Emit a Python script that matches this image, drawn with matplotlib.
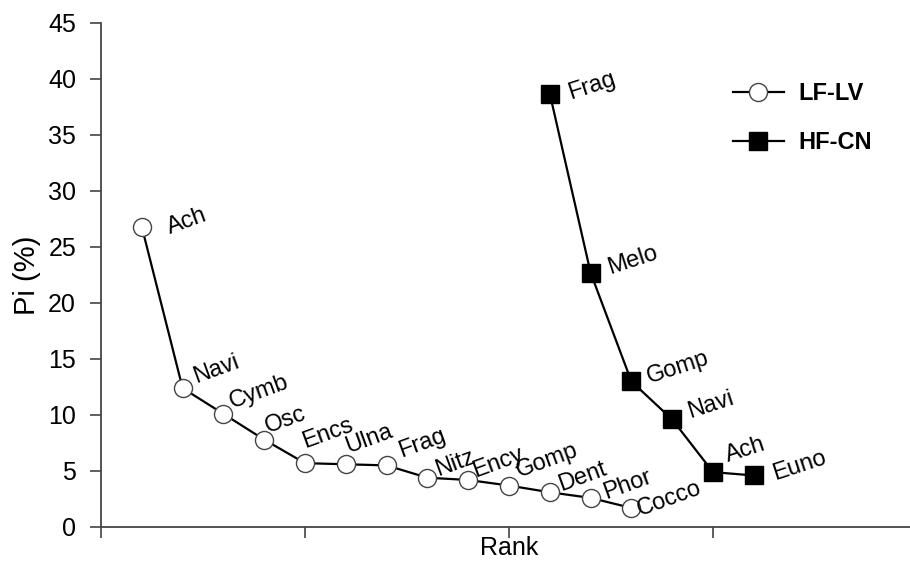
import matplotlib
matplotlib.use("Agg")
import matplotlib.pyplot as plt

plt.rcParams["font.family"] = ["Liberation Sans", "DejaVu Sans"]

# Rank-abundance data: relative abundance Pi (%) by rank
lf_taxa = ["Ach", "Navi", "Cymb", "Osc", "Encs", "Ulna", "Frag", "Nitz",
           "Ency", "Gomp", "Dent", "Phor", "Cocco"]
lf_rank = [1, 2, 3, 4, 5, 6, 7, 8, 9, 10, 11, 12, 13]
lf_pi = [26.8, 12.4, 10.1, 7.8, 5.7, 5.6, 5.5, 4.4, 4.2, 3.7, 3.1, 2.6, 1.7]

hf_taxa = ["Frag", "Melo", "Gomp", "Navi", "Ach", "Euno"]
hf_rank = [11, 12, 13, 14, 15, 16]
hf_pi = [38.7, 22.7, 13.0, 9.6, 4.9, 4.6]

# label offsets from each marker (points)
lf_offsets = [(20, -5), (10, 4), (6, 4), (3, 5), (0, 11), (2, 8), (11, 6),
              (8, 1), (5, 2), (7, 6), (8, 1), (11, -1), (6, -6)]
hf_offsets = [(15, -4), (14, -1), (13, -1), (13, 1), (11, 7), (15, -3)]

fig = plt.figure(figsize=(9.10, 5.62), dpi=100)
ax = fig.add_axes([101 / 910, 35 / 562, 816 / 910, 504 / 562])

ax.plot(lf_rank, lf_pi, color="black", lw=1.6, marker="o", ms=13,
        mfc="white", mec="#444444", mew=1.0, label="LF-LV", zorder=3)
ax.plot(hf_rank, hf_pi, color="black", lw=1.6, marker="s", ms=12.5,
        mfc="black", mec="black", mew=1.0, label="HF-CN", zorder=3)

for name, x, y, off in zip(lf_taxa, lf_rank, lf_pi, lf_offsets):
    ax.annotate(name, (x, y), xytext=off, textcoords="offset points",
                rotation=20, rotation_mode="anchor", ha="left", va="baseline",
                fontsize=17)
for name, x, y, off in zip(hf_taxa, hf_rank, hf_pi, hf_offsets):
    ax.annotate(name, (x, y), xytext=off, textcoords="offset points",
                rotation=18, rotation_mode="anchor", ha="left", va="baseline",
                fontsize=17)

ax.set_xlim(0, 20)
ax.set_ylim(0, 45)
ax.set_yticks(range(0, 46, 5))
ax.set_xticks([0, 5, 10, 15, 20])
ax.set_xticklabels([])
ax.tick_params(axis="y", direction="out", length=8, width=1.2, labelsize=18,
               pad=10, color="#444444")
ax.tick_params(axis="x", direction="out", length=8, width=1.2, color="#444444")

for side in ("top", "right"):
    ax.spines[side].set_visible(False)
for side in ("left", "bottom"):
    ax.spines[side].set_linewidth(1.3)
    ax.spines[side].set_color("#444444")

ax.set_xlabel("Rank", fontsize=18)
ax.xaxis.set_label_coords(0.5, -0.018)
ax.set_ylabel("Pi (%)", fontsize=21, labelpad=5)

leg = ax.legend(loc="upper left", bbox_to_anchor=(733 / 910, 1 - 82 / 562),
                bbox_transform=fig.transFigure, frameon=False,
                borderpad=0, borderaxespad=0,
                handlelength=2.15, handletextpad=0.6, labelspacing=1.1,
                prop={"size": 17, "weight": "bold"})

fig.savefig("out.png", dpi=100)
